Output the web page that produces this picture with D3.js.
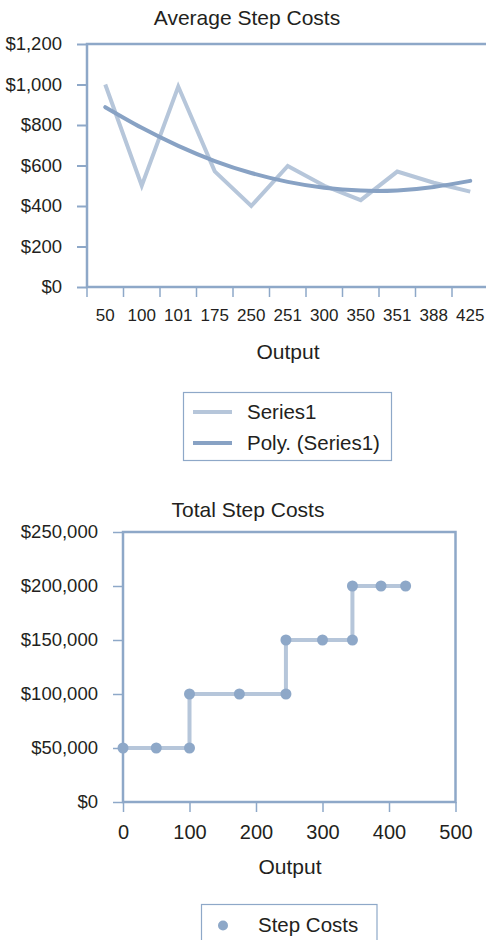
<!DOCTYPE html>
<html>
<head>
<meta charset="utf-8">
<script src="https://cdn.jsdelivr.net/npm/d3@7"></script>
<style>
  html, body { margin: 0; padding: 0; background: #fff; }
  svg { display: block; }
  text { font-family: "Liberation Sans", Arial, Helvetica, sans-serif; fill: #231f20; }
</style>
</head>
<body>
<svg id="chart" width="486" height="940"></svg>
<script>
// Average step costs by output level
const outputs = ["50", "100", "101", "175", "250", "251", "300", "350", "351", "388", "425"];
const avgCost = [1000, 500, 990, 571, 400, 598, 500, 429, 570, 515, 471];
// Second-order polynomial trend of the average cost
const polyTrend = [888, 786, 697, 622, 563, 519, 490, 476, 477, 494, 524];
const avgTicks = [0, 200, 400, 600, 800, 1000, 1200];

// Total step costs
const totalOutput = [0, 50, 100, 100, 175, 245, 245, 300, 345, 345, 388, 425];
const totalCost = [50000, 50000, 50000, 100000, 100000, 100000, 150000, 150000, 150000, 200000, 200000, 200000];
const totalYTicks = [0, 50000, 100000, 150000, 200000, 250000];
const totalXTicks = [0, 100, 200, 300, 400, 500];

const frameColor = "#8ea8c8";
const lightLine = "#b6c6da";
const darkLine = "#88a2c4";
const titleSize = "21px";
const yLabelSize = "18.5px";
const legendSize = "20.5px";

const svg = d3.select("#chart");
const money = d3.format("$,.0f");

// ---------- Average Step Costs ----------
{
  const left = 87, top = 44, bottom = 287, step = 36.5;
  const x = d3.scaleBand().domain(outputs).range([left, left + step * outputs.length]).padding(0);
  const y = d3.scaleLinear().domain([0, 1200]).range([bottom, top]);
  const g = svg.append("g");

  g.append("text").attr("x", 247).attr("y", 25).attr("text-anchor", "middle")
    .style("font-size", titleSize).text("Average Step Costs");

  // y axis with ticks and dollar labels
  const yAxis = d3.axisLeft(y).tickValues(avgTicks).tickFormat(money).tickSize(10).tickPadding(15);
  const ya = g.append("g").attr("transform", `translate(${left},0)`).call(yAxis);
  ya.select(".domain").remove();
  ya.selectAll(".tick line").attr("stroke", frameColor).attr("stroke-width", 2);
  ya.selectAll(".tick text").style("font-size", yLabelSize).attr("fill", "#231f20");

  // frame around the plot area
  const right = x.range()[1];
  g.append("rect").attr("x", left).attr("y", top).attr("width", right - left).attr("height", bottom - top)
    .attr("fill", "none").attr("stroke", frameColor).attr("stroke-width", 2.5);

  // category boundary ticks below the axis
  const bounds = outputs.map(d => x(d)).concat([right]);
  g.selectAll(".xb").data(bounds).join("line")
    .attr("x1", d => d).attr("x2", d => d).attr("y1", bottom).attr("y2", bottom + 10)
    .attr("stroke", frameColor).attr("stroke-width", 1.5);

  // category labels
  const xAxis = d3.axisBottom(x).tickSize(0).tickPadding(22);
  const xa = g.append("g").attr("transform", `translate(0,${bottom})`).call(xAxis);
  xa.select(".domain").remove();
  xa.selectAll(".tick text").style("font-size", "17px").attr("fill", "#231f20");

  g.append("text").attr("x", 288).attr("y", 359).attr("text-anchor", "middle")
    .style("font-size", titleSize).text("Output");

  const cx = d => x(d) + x.bandwidth() / 2;
  const line = d3.line().x((d, i) => cx(outputs[i])).y(d => y(d));
  g.append("path").datum(avgCost).attr("d", line)
    .attr("fill", "none").attr("stroke", lightLine).attr("stroke-width", 4).attr("stroke-linejoin", "miter");
  const trend = d3.line().x((d, i) => cx(outputs[i])).y(d => y(d)).curve(d3.curveNatural);
  g.append("path").datum(polyTrend).attr("d", trend)
    .attr("fill", "none").attr("stroke", darkLine).attr("stroke-width", 4).attr("stroke-linecap", "round");

  // legend
  const lg = g.append("g");
  lg.append("rect").attr("x", 183.5).attr("y", 392.5).attr("width", 208).attr("height", 68)
    .attr("fill", "#fff").attr("stroke", frameColor).attr("stroke-width", 1.2);
  const items = [{label: "Series1", color: lightLine}, {label: "Poly. (Series1)", color: darkLine}];
  items.forEach((it, i) => {
    const yy = 412 + i * 31;
    lg.append("line").attr("x1", 193).attr("x2", 232).attr("y1", yy).attr("y2", yy)
      .attr("stroke", it.color).attr("stroke-width", 4);
    lg.append("text").attr("x", 247).attr("y", yy + 7).style("font-size", legendSize).text(it.label);
  });
}

// ---------- Total Step Costs ----------
{
  const left = 123, right = 455.5, top = 532, bottom = 802;
  const x = d3.scaleLinear().domain([0, 500]).range([left, right]);
  const y = d3.scaleLinear().domain([0, 250000]).range([bottom, top]);
  const g = svg.append("g");

  g.append("text").attr("x", 248).attr("y", 516.5).attr("text-anchor", "middle")
    .style("font-size", titleSize).text("Total Step Costs");

  const yAxis = d3.axisLeft(y).tickValues(totalYTicks).tickFormat(money).tickSize(10).tickPadding(15);
  const ya = g.append("g").attr("transform", `translate(${left},0)`).call(yAxis);
  ya.select(".domain").remove();
  ya.selectAll(".tick line").attr("stroke", frameColor).attr("stroke-width", 1.5);
  ya.selectAll(".tick text").style("font-size", yLabelSize).attr("fill", "#231f20");

  const xAxis = d3.axisBottom(x).tickValues(totalXTicks).tickFormat(d3.format("d")).tickSize(10).tickPadding(13);
  const xa = g.append("g").attr("transform", `translate(0,${bottom})`).call(xAxis);
  xa.select(".domain").remove();
  xa.selectAll(".tick line").attr("stroke", frameColor).attr("stroke-width", 1.5);
  xa.selectAll(".tick text").style("font-size", "20px").attr("fill", "#231f20");

  g.append("rect").attr("x", left).attr("y", top).attr("width", right - left).attr("height", bottom - top)
    .attr("fill", "none").attr("stroke", frameColor).attr("stroke-width", 2.5);

  g.append("text").attr("x", 290).attr("y", 874).attr("text-anchor", "middle")
    .style("font-size", titleSize).text("Output");

  const pts = totalOutput.map((d, i) => [d, totalCost[i]]);
  g.append("path").datum(pts)
    .attr("d", d3.line().x(d => x(d[0])).y(d => y(d[1])))
    .attr("fill", "none").attr("stroke", lightLine).attr("stroke-width", 4);
  g.selectAll(".pt").data(pts).join("circle")
    .attr("cx", d => x(d[0])).attr("cy", d => y(d[1])).attr("r", 5.5)
    .attr("fill", "#8ea8c8");

  const lg = g.append("g");
  lg.append("rect").attr("x", 201.5).attr("y", 904.5).attr("width", 175.5).attr("height", 60)
    .attr("fill", "#fff").attr("stroke", frameColor).attr("stroke-width", 1.2);
  lg.append("circle").attr("cx", 223).attr("cy", 925.5).attr("r", 5).attr("fill", "#8ea8c8");
  lg.append("text").attr("x", 258).attr("y", 932).style("font-size", legendSize).text("Step Costs");
}
</script>
</body>
</html>
